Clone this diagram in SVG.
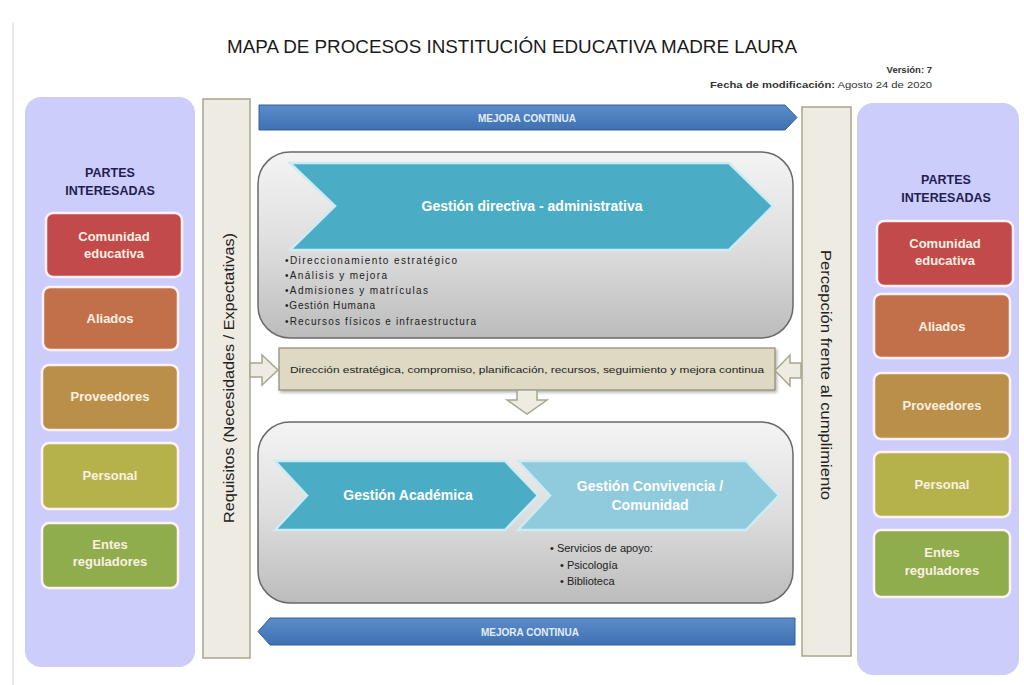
<svg xmlns="http://www.w3.org/2000/svg" width="1024" height="685" viewBox="0 0 1024 685">
<defs>
<linearGradient id="gray" x1="0" y1="0" x2="0" y2="1">
<stop offset="0" stop-color="#f4f4f4"/>
<stop offset="0.5" stop-color="#dedede"/>
<stop offset="1" stop-color="#bcbcbc"/>
</linearGradient>
<linearGradient id="blue" x1="0" y1="0" x2="0" y2="1">
<stop offset="0" stop-color="#5b8dcb"/>
<stop offset="1" stop-color="#3f70b0"/>
</linearGradient>
<filter id="sh" x="-5%" y="-10%" width="110%" height="130%">
<feDropShadow dx="1.5" dy="2" stdDeviation="1.5" flood-color="#000" flood-opacity="0.3"/>
</filter>
</defs>
<style>
text{font-family:"Liberation Sans",Arial,sans-serif}
.panel{fill:#cdcdfc}
.bar{fill:#eeebe2;stroke:#a9a48c;stroke-width:1.5}
.pi{font-weight:bold;font-size:12.5px;fill:#1f2050;text-anchor:middle}
.sb{stroke:#fff2f0;stroke-width:2.5}
.sl{font-weight:bold;font-size:13px;fill:#fbf0e2;text-anchor:middle}
.gbox{fill:url(#gray);stroke:#6a6a6a;stroke-width:1.5}
.chev{stroke:#cdebf3;stroke-width:2.5}
.ct{font-weight:bold;font-size:14px;fill:#fff;text-anchor:middle}
.mej{fill:url(#blue);stroke:#35609a;stroke-width:1}
.mt{font-weight:bold;font-size:10px;fill:#e4ecf7;text-anchor:middle}
.bl{font-size:10px;fill:#222}
.sv{font-size:11px;fill:#222}
.ba{fill:#eeebe2;stroke:#aaa58e;stroke-width:1.5}
</style>
<rect width="1024" height="685" fill="#fff"/>
<line x1="13" y1="22" x2="13" y2="685" stroke="#d4d4d4" stroke-width="1"/>

<g id="title">
<text x="512" y="53" font-size="18" fill="#1a1a1a" text-anchor="middle" textLength="570" lengthAdjust="spacingAndGlyphs">MAPA DE PROCESOS INSTITUCIÓN EDUCATIVA MADRE LAURA</text>
<text x="932" y="73" font-size="9.5" font-weight="bold" fill="#333" text-anchor="end">Versión: 7</text>
<text x="932" y="88" font-size="9" fill="#333" text-anchor="end" textLength="222" lengthAdjust="spacingAndGlyphs"><tspan font-weight="bold">Fecha de modificación:</tspan> Agosto 24 de 2020</text>
</g>

<g id="partes-izq">
<rect class="panel" x="25" y="97" width="170" height="570" rx="16"/>
<text class="pi" x="110" y="177">PARTES</text>
<text class="pi" x="110" y="195">INTERESADAS</text>
<rect class="sb" x="46" y="213" width="136" height="64" rx="7" fill="#c34a4a"/>
<text class="sl" x="114" y="241">Comunidad</text>
<text class="sl" x="114" y="258">educativa</text>
<rect class="sb" x="43" y="287" width="135" height="63" rx="7" fill="#c2704a"/>
<text class="sl" x="110" y="323">Aliados</text>
<rect class="sb" x="42" y="365" width="136" height="65" rx="7" fill="#b98f49"/>
<text class="sl" x="110" y="401">Proveedores</text>
<rect class="sb" x="42" y="443" width="136" height="66" rx="7" fill="#b6b24b" />
<text class="sl" x="110" y="480" fill="#f5f0cf">Personal</text>
<rect class="sb" x="42" y="523" width="136" height="65" rx="7" fill="#8fad4c"/>
<text class="sl" x="110" y="549">Entes</text>
<text class="sl" x="110" y="566">reguladores</text>
</g>

<g id="requisitos">
<rect class="bar" x="203" y="99" width="47" height="559"/>
<text x="0" y="0" font-size="15" fill="#222" text-anchor="middle" transform="translate(234,378) rotate(-90)" textLength="290" lengthAdjust="spacingAndGlyphs">Requisitos (Necesidades / Expectativas)</text>
</g>

<g id="percepcion">
<rect class="bar" x="802" y="107" width="49" height="549"/>
<text x="0" y="0" font-size="15" fill="#222" text-anchor="middle" transform="translate(821,375) rotate(90)" textLength="250" lengthAdjust="spacingAndGlyphs">Percepción frente al cumplimiento</text>
</g>

<g id="partes-der">
<rect class="panel" x="857" y="103" width="162" height="572" rx="16"/>
<text class="pi" x="946" y="184">PARTES</text>
<text class="pi" x="946" y="202">INTERESADAS</text>
<rect class="sb" x="877" y="221" width="136" height="65" rx="7" fill="#c34a4a"/>
<text class="sl" x="945" y="248">Comunidad</text>
<text class="sl" x="945" y="265">educativa</text>
<rect class="sb" x="874" y="294" width="136" height="64" rx="7" fill="#c2704a"/>
<text class="sl" x="942" y="331">Aliados</text>
<rect class="sb" x="874" y="373" width="136" height="66" rx="7" fill="#b98f49"/>
<text class="sl" x="942" y="410">Proveedores</text>
<rect class="sb" x="874" y="452" width="136" height="65" rx="7" fill="#b6b24b"/>
<text class="sl" x="942" y="489" fill="#f5f0cf">Personal</text>
<rect class="sb" x="874" y="530" width="136" height="67" rx="7" fill="#8fad4c"/>
<text class="sl" x="942" y="557">Entes</text>
<text class="sl" x="942" y="575">reguladores</text>
</g>

<g id="mejora-sup">
<polygon class="mej" points="259,105 785,105 797,117.5 785,130 259,130"/>
<text class="mt" x="527" y="121.5">MEJORA CONTINUA</text>
</g>

<g id="gestion-directiva">
<rect class="gbox" x="258" y="152" width="535" height="186" rx="32"/>
<polygon class="chev" points="290,163 729,163 773,206 729,250 290,250 335,206" fill="#4bacc6"/>
<text class="ct" x="532" y="211">Gestión directiva - administrativa</text>
<text class="bl" x="285" y="264" textLength="172" lengthAdjust="spacing">•Direccionamiento estratégico</text>
<text class="bl" x="285" y="279" textLength="102" lengthAdjust="spacing">•Análisis y mejora</text>
<text class="bl" x="285" y="294" textLength="143" lengthAdjust="spacing">•Admisiones y matrículas</text>
<text class="bl" x="285" y="309" textLength="90" lengthAdjust="spacing">•Gestión Humana</text>
<text class="bl" x="285" y="325" textLength="191" lengthAdjust="spacing">•Recursos físicos e infraestructura</text>
</g>

<g id="direccion">
<rect x="279" y="348" width="496" height="42" fill="#ddd9c3" stroke="#8e8a74" stroke-width="1.2" filter="url(#sh)"/>
<text x="527" y="373" font-size="8.6" fill="#222" text-anchor="middle" textLength="474" lengthAdjust="spacingAndGlyphs">Dirección estratégica, compromiso, planificación, recursos, seguimiento y mejora continua</text>
</g>

<g id="gestion-misional">
<rect class="gbox" x="258" y="422" width="535" height="181" rx="32"/>
<polygon class="chev" points="275,461 505,461 538,495.5 505,530 275,530 307,495.5" fill="#4bacc6"/>
<text class="ct" x="408" y="500">Gestión Académica</text>
<polygon class="chev" points="518,461 746,461 779,495.5 746,530 518,530 550,495.5" fill="#8fcbdc"/>
<text class="ct" x="650" y="491" fill="#f2fafc">Gestión Convivencia /</text>
<text class="ct" x="650" y="510" fill="#f2fafc">Comunidad</text>
<text class="sv" x="550" y="552">• Servicios de apoyo:</text>
<text class="sv" x="560" y="569">• Psicología</text>
<text class="sv" x="560" y="585">• Biblioteca</text>
</g>

<g id="mejora-inf">
<polygon class="mej" points="795,618 270,618 258,631.5 270,645 795,645"/>
<text class="mt" x="530" y="635.5">MEJORA CONTINUA</text>
</g>

<g id="connectors">
<polygon class="ba" points="250,363 262,363 262,355 278,370 262,385 262,377 250,377"/>
<polygon class="ba" points="801,363 790,363 790,355 775,370.5 790,386 790,378 801,378"/>
<polygon class="ba" points="517,390 537,390 537,400 547,400 527,414 507,400 517,400"/>
</g>
</svg>
